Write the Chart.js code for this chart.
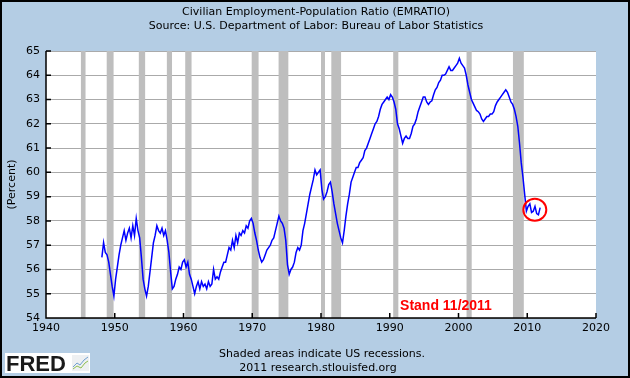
<!DOCTYPE html>
<html>
<head>
<meta charset="utf-8">
<script src="https://cdn.jsdelivr.net/npm/chart.js@4.4.0/dist/chart.umd.min.js"></script>
<style>
  body { margin: 0; background: #b4cde4; }
  canvas { display: block; }
</style>
</head>
<body>
<canvas id="chartContainer" width="630" height="378"></canvas>
<script>
// Employment-population ratio, quarterly readings taken off the graph
const firstYear = 1948;
const ratio1940s = [56.5, 57.1, 56.7, 56.6, 56.3, 55.8, 55.3, 54.9];
const ratio1950s = [
  55.6, 56.1, 56.6, 57.0,  57.3, 57.6, 57.2, 57.5,  57.7, 57.3, 57.8, 57.4,
  58.1, 57.6, 57.3, 56.5,  55.6, 55.2, 54.9, 55.3,  55.9, 56.5, 57.1, 57.4,
  57.8, 57.6, 57.5, 57.7,  57.4, 57.6, 57.2, 56.7,  55.9, 55.2, 55.3, 55.6,
  55.8, 56.1, 56.0, 56.3
];
const ratio1960s = [
  56.4, 56.1, 56.3, 55.8,  55.6, 55.3, 55.0, 55.3,  55.5, 55.2, 55.5, 55.3,
  55.4, 55.2, 55.5, 55.3,  55.4, 56.0, 55.6, 55.7,  55.6, 55.9, 56.1, 56.3,
  56.3, 56.6, 56.9, 56.8,  57.2, 56.9, 57.4, 57.1,  57.5, 57.4, 57.6, 57.5,
  57.8, 57.7, 58.0, 58.1
];
const ratio1970s = [
  57.9, 57.5, 57.2, 56.8,  56.5, 56.3, 56.4, 56.6,  56.8, 56.9, 57.0, 57.2,
  57.3, 57.6, 57.9, 58.2,  58.0, 57.9, 57.7, 57.2,  56.2, 55.8, 56.0, 56.1,
  56.3, 56.7, 56.9, 56.8,  57.0, 57.6, 57.9, 58.3,  58.7, 59.1, 59.4, 59.7,
  60.1, 59.9, 60.0, 60.1
];
const ratio1980s = [
  59.3, 58.9, 59.0, 59.2,  59.5, 59.6, 59.2, 58.7,  58.3, 57.9, 57.6, 57.3,
  57.1, 57.6, 58.2, 58.7,  59.1, 59.6, 59.8, 60.0,  60.2, 60.2, 60.4, 60.5,
  60.6, 60.9, 61.0, 61.2,  61.4, 61.6, 61.8, 62.0,  62.1, 62.3, 62.6, 62.8,
  62.9, 63.0, 63.1, 63.0
];
const ratio1990s = [
  63.2, 63.1, 62.9, 62.6,  62.0, 61.8, 61.5, 61.2,  61.4, 61.5, 61.4, 61.4,
  61.6, 61.9, 62.0, 62.2,  62.5, 62.7, 62.9, 63.1,  63.1, 62.9, 62.8, 62.9,
  62.95, 63.2, 63.4, 63.5, 63.7, 63.8, 64.0, 64.0,  64.05, 64.2, 64.35, 64.2,
  64.2, 64.3, 64.4, 64.5
];
const ratio2000s = [
  64.7, 64.5, 64.4, 64.3,  64.0, 63.6, 63.3, 63.0,  62.85, 62.7, 62.55, 62.5,
  62.4, 62.2, 62.1, 62.2,  62.3, 62.3, 62.4, 62.4,  62.5, 62.75, 62.9, 63.0,
  63.1, 63.2, 63.3, 63.4,  63.3, 63.1, 62.9, 62.8,  62.6, 62.3, 61.9, 61.2,
  60.4, 59.8, 59.1, 58.4
];
const ratio2010s = [58.6, 58.7, 58.35, 58.4, 58.6, 58.3, 58.25, 58.55];

// NBER recessions (decimal years)
const recessionStarts = [1945.08, 1948.83, 1953.5, 1957.58, 1960.25, 1969.92, 1973.83, 1980.0, 1981.5, 1990.5, 2001.17, 2007.92];
const recessionEnds   = [1945.75, 1949.83, 1954.42, 1958.33, 1961.17, 1970.92, 1975.25, 1980.58, 1982.92, 1991.25, 2001.92, 2009.5];

const yearTicks = [1940, 1950, 1960, 1970, 1980, 1990, 2000, 2010, 2020];
const percentTicks = [54, 55, 56, 57, 58, 59, 60, 61, 62, 63, 64, 65];

const allValues = [].concat(ratio1940s, ratio1950s, ratio1960s, ratio1970s, ratio1980s, ratio1990s, ratio2000s, ratio2010s);
const points = allValues.map((v, i) => ({ x: firstYear + i / 4 + 0.125, y: v }));

const font = 'DejaVu Sans, sans-serif';

const fredExtras = {
  id: 'fredExtras',
  beforeDraw(chart) {
    const { ctx, chartArea: a } = chart;
    ctx.save();
    ctx.fillStyle = '#b4cde4';
    ctx.fillRect(0, 0, chart.width, chart.height);
    ctx.fillStyle = '#ffffff';
    ctx.fillRect(a.left, a.top, a.right - a.left, a.bottom - a.top);
    ctx.restore();
  },
  beforeDatasetsDraw(chart) {
    const { ctx, chartArea: a, scales: { x, y } } = chart;
    ctx.save();
    // recession shading
    ctx.fillStyle = '#bebebe';
    recessionStarts.forEach((s, i) => {
      const x0 = x.getPixelForValue(s);
      const x1 = x.getPixelForValue(recessionEnds[i]);
      ctx.fillRect(x0, a.top, x1 - x0, a.bottom - a.top);
    });
    // axis lines + inward ticks
    ctx.strokeStyle = '#000';
    ctx.lineWidth = 1.5;
    ctx.beginPath();
    ctx.moveTo(a.left, a.top);
    ctx.lineTo(a.left, a.bottom);
    ctx.lineTo(a.right, a.bottom);
    yearTicks.forEach(v => {
      const px = x.getPixelForValue(v);
      ctx.moveTo(px, a.bottom);
      ctx.lineTo(px, a.bottom - 5);
    });
    percentTicks.forEach(v => {
      const py = y.getPixelForValue(v);
      ctx.moveTo(a.left, py);
      ctx.lineTo(a.left + 5, py);
    });
    ctx.stroke();
    ctx.restore();
  },
  afterDraw(chart) {
    const { ctx, scales: { x, y } } = chart;
    ctx.save();
    // titles
    ctx.fillStyle = '#000';
    ctx.textAlign = 'center';
    ctx.textBaseline = 'middle';
    ctx.font = '11px ' + font;
    ctx.fillText('Civilian Employment-Population Ratio (EMRATIO)', 316, 12);
    ctx.fillText('Source: U.S. Department of Labor: Bureau of Labor Statistics', 316, 26);
    // footer
    ctx.fillText('Shaded areas indicate US recessions.', 322, 354);
    ctx.fillText('2011 research.stlouisfed.org', 318, 368);

    // annotation
    ctx.fillStyle = '#f00';
    ctx.textAlign = 'left';
    ctx.font = 'bold 14px Liberation Sans, Arial, sans-serif';
    ctx.fillText('Stand 11/2011', x.getPixelForValue(1991.5), y.getPixelForValue(54.5));
    ctx.strokeStyle = '#f00';
    ctx.lineWidth = 2;
    ctx.beginPath();
    ctx.ellipse(x.getPixelForValue(2011.1), y.getPixelForValue(58.46), 11.5, 11, 0, 0, Math.PI * 2);
    ctx.stroke();

    // FRED logo
    ctx.fillStyle = '#fff';
    ctx.fillRect(5, 353, 85, 20);
    ctx.fillStyle = '#1a1a1a';
    ctx.textBaseline = 'alphabetic';
    ctx.font = 'bold 22px Liberation Sans, Arial, sans-serif';
    ctx.fillText('FRED', 6, 371);
    ctx.fillStyle = '#eef0f2';
    ctx.fillRect(72, 355, 17, 16);
    ctx.lineWidth = 1;
    ctx.strokeStyle = '#6f9fd0';
    ctx.beginPath();
    ctx.moveTo(73, 367); ctx.lineTo(77, 363); ctx.lineTo(80, 365); ctx.lineTo(84, 360); ctx.lineTo(88, 357);
    ctx.stroke();
    ctx.strokeStyle = '#8fbf50';
    ctx.beginPath();
    ctx.moveTo(73, 369); ctx.lineTo(77, 366); ctx.lineTo(81, 368); ctx.lineTo(85, 363); ctx.lineTo(88, 361);
    ctx.stroke();

    // outer frame
    ctx.strokeStyle = '#000';
    ctx.lineWidth = 2;
    ctx.strokeRect(1, 1, chart.width - 2, chart.height - 2);
    ctx.restore();
  }
};

new Chart(document.getElementById('chartContainer').getContext('2d'), {
  type: 'line',
  data: {
    datasets: [{
      data: points,
      borderColor: '#0000ff',
      borderWidth: 1.5,
      pointRadius: 0,
      tension: 0,
      fill: false
    }]
  },
  options: {
    responsive: false,
    animation: false,
    layout: { padding: { top: 51, right: 34, bottom: 0, left: 0 } },
    plugins: { legend: { display: false }, tooltip: { enabled: false } },
    scales: {
      x: {
        type: 'linear',
        min: 1940,
        max: 2020,
        afterBuildTicks: s => { s.ticks = yearTicks.map(v => ({ value: v })); },
        afterFit: s => { s.height = 60; },
        ticks: { color: '#000', font: { family: font, size: 11 }, padding: 4, maxRotation: 0, callback: v => String(v) },
        grid: { display: false, drawTicks: false },
        border: { display: false }
      },
      y: {
        min: 54,
        max: 65,
        afterBuildTicks: s => { s.ticks = percentTicks.map(v => ({ value: v })); },
        afterFit: s => { s.width = 46; },
        ticks: { color: '#000', font: { family: font, size: 11 }, padding: 6 },
        grid: { color: '#aaaaaa', lineWidth: 1, drawTicks: false },
        border: { display: false },
        title: { display: true, text: '(Percent)', color: '#000', font: { family: font, size: 11 }, padding: { top: 6, bottom: 0 } }
      }
    }
  },
  plugins: [fredExtras]
});
</script>
</body>
</html>
